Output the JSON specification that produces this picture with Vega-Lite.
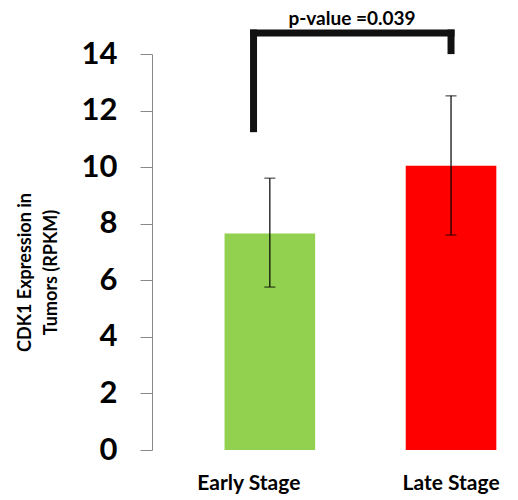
{
  "$schema": "https://vega.github.io/schema/vega-lite/v6.json",
  "width": 366,
  "height": 396,
  "autosize": {"type": "none"},
  "padding": {"left": 152, "top": 54, "right": 0, "bottom": 50},
  "background": "white",
  "config": {"view": {"stroke": null}, "font": "Lato"},
  "datasets": {
    "bars": [
      {"stage": "Early Stage", "mean": 7.65, "lo": 5.76, "hi": 9.61},
      {"stage": "Late Stage", "mean": 10.05, "lo": 7.6, "hi": 12.52}
    ],
    "bracketV": [
      {"stage": "Early Stage", "v1": 11.36, "v2": 14.74},
      {"stage": "Late Stage", "v1": 14.12, "v2": 14.74}
    ],
    "bracketH": [
      {"from": "Early Stage", "to": "Late Stage", "v": 14.74}
    ],
    "label": [{"txt": "p-value =0.039", "v": 15.22}]
  },
  "layer": [
    {
      "data": {"name": "bars"},
      "mark": {"type": "bar"},
      "encoding": {
        "x": {
          "field": "stage", "type": "nominal", "sort": null,
          "scale": {"paddingInner": 0.5, "paddingOuter": 0.26, "align": 0.77},
          "axis": {
            "title": null, "domain": false, "ticks": false, "labelAngle": 0,
            "labelFont": "Lato", "labelFontWeight": "bold", "labelFontSize": 21,
            "labelColor": "black", "labelPadding": 22,
            "labelOffset": {"condition": {"test": "datum.value === 'Early Stage'", "value": -21}, "value": 0}
          }
        },
        "y": {
          "field": "mean", "type": "quantitative",
          "scale": {"domain": [0, 14], "nice": false},
          "axis": {
            "values": [0, 2, 4, 6, 8, 10, 12, 14], "grid": false,
            "domainColor": "#898989", "tickColor": "#898989", "tickSize": 12,
            "labelFont": "Lato", "labelFontWeight": "bold", "labelFontSize": 31,
            "labelColor": "black", "labelPadding": 23,
            "title": ["CDK1 Expression in", "Tumors (RPKM)"],
            "titleFont": "Lato", "titleFontWeight": "bold", "titleFontSize": 18,
            "titleLineHeight": 26,
            "titleColor": "black", "titlePadding": 21, "titleY": 218
          }
        },
        "color": {
          "field": "stage", "type": "nominal",
          "scale": {"domain": ["Early Stage", "Late Stage"], "range": ["#92D050", "#FF0000"]},
          "legend": null
        }
      }
    },
    {
      "data": {"name": "bars"},
      "mark": {"type": "rule", "color": "black", "strokeWidth": 1.2},
      "encoding": {
        "x": {"field": "stage", "type": "nominal", "sort": null},
        "y": {"field": "lo", "type": "quantitative"},
        "y2": {"field": "hi"}
      }
    },
    {
      "data": {"name": "bars"},
      "mark": {"type": "tick", "color": "black", "thickness": 1.2, "size": 11, "orient": "horizontal"},
      "encoding": {
        "x": {"field": "stage", "type": "nominal", "sort": null},
        "y": {"field": "lo", "type": "quantitative"}
      }
    },
    {
      "data": {"name": "bars"},
      "mark": {"type": "tick", "color": "black", "thickness": 1.2, "size": 11, "orient": "horizontal"},
      "encoding": {
        "x": {"field": "stage", "type": "nominal", "sort": null},
        "y": {"field": "hi", "type": "quantitative"}
      }
    },
    {
      "data": {"name": "bracketV"},
      "transform": [{"filter": "datum.stage === 'Early Stage'"}],
      "mark": {"type": "rule", "color": "#111111", "strokeWidth": 7, "strokeCap": "square", "clip": false},
      "encoding": {
        "x": {"field": "stage", "type": "nominal", "sort": null, "bandPosition": 0.32},
        "y": {"field": "v1", "type": "quantitative"},
        "y2": {"field": "v2"}
      }
    },
    {
      "data": {"name": "bracketV"},
      "transform": [{"filter": "datum.stage === 'Late Stage'"}],
      "mark": {"type": "rule", "color": "#111111", "strokeWidth": 7, "strokeCap": "square", "clip": false},
      "encoding": {
        "x": {"field": "stage", "type": "nominal", "sort": null},
        "y": {"field": "v1", "type": "quantitative"},
        "y2": {"field": "v2"}
      }
    },
    {
      "data": {"name": "bracketH"},
      "mark": {"type": "rule", "color": "#111111", "strokeWidth": 7, "strokeCap": "square", "clip": false},
      "encoding": {
        "x": {"field": "from", "type": "nominal", "sort": null, "bandPosition": 0.32},
        "x2": {"field": "to"},
        "y": {"field": "v", "type": "quantitative"}
      }
    },
    {
      "data": {"name": "label"},
      "mark": {"type": "text", "font": "Lato", "fontWeight": "bold", "fontSize": 19, "color": "black", "dx": 17, "baseline": "middle"},
      "encoding": {
        "y": {"field": "v", "type": "quantitative"},
        "text": {"field": "txt"}
      }
    }
  ]
}
